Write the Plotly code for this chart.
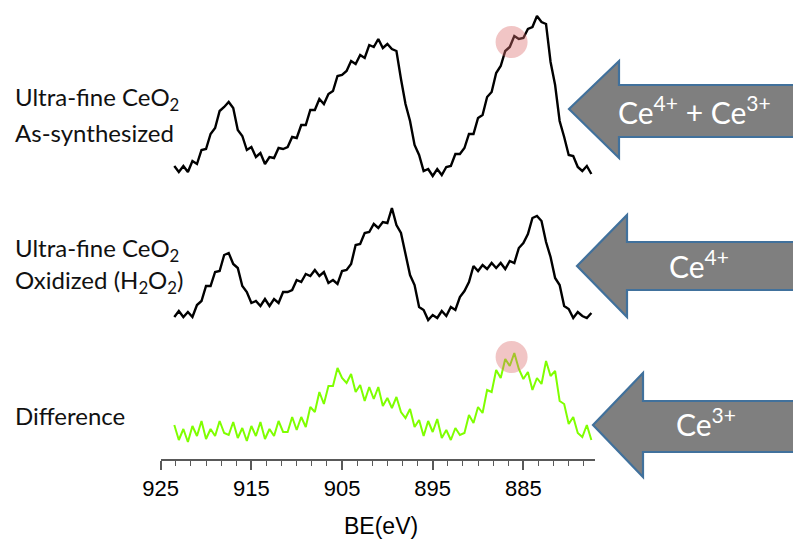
import plotly.graph_objects as go

W, H = 793, 542

# Binding energy grid (eV)
be = [923.5, 923.0, 922.5, 922.0, 921.5, 921.0, 920.5, 920.0, 919.5, 919.0,
      918.5, 918.0, 917.5, 917.0, 916.5, 916.0, 915.5, 915.0, 914.5, 914.0,
      913.5, 913.0, 912.5, 912.0, 911.5, 911.0, 910.5, 910.0, 909.5, 909.0,
      908.5, 908.0, 907.5, 907.0, 906.5, 906.0, 905.5, 905.0, 904.5, 904.0,
      903.5, 903.0, 902.5, 902.0, 901.5, 901.0, 900.5, 900.0, 899.5, 899.0,
      898.5, 898.0, 897.5, 897.0, 896.5, 896.0, 895.5, 895.0, 894.5, 894.0,
      893.5, 893.0, 892.5, 892.0, 891.5, 891.0, 890.5, 890.0, 889.5, 889.0,
      888.5, 888.0, 887.5, 887.0, 886.5, 886.0, 885.5, 885.0, 884.5, 884.0,
      883.5, 883.0, 882.5, 882.0, 881.5, 881.0, 880.5, 880.0, 879.5, 879.0,
      878.5, 878.0, 877.5]

# Ultra-fine CeO2, as-synthesized (arb. units)
as_synth = [24, 18, 24, 18, 29, 26, 40, 41, 56, 62,
            79, 83, 88, 82, 60, 54, 40, 43, 33, 37,
            26, 33, 32, 42, 41, 43, 53, 52, 65, 65,
            80, 80, 91, 86, 96, 99, 114, 115, 119, 129,
            126, 135, 132, 145, 143, 151, 142, 146, 141, 139,
            111, 86, 69, 45, 35, 19, 21, 14, 21, 15,
            23, 24, 36, 36, 42, 56, 56, 72, 75, 93,
            98, 117, 124, 139, 143, 154, 151, 152, 161, 163,
            174, 168, 166, 128, 105, 69, 53, 35, 34, 23,
            19, 24, 16]

# Ultra-fine CeO2, oxidized (H2O2)
oxidized = [13, 19, 13, 18, 13, 25, 29, 44, 44, 58,
            59, 75, 77, 66, 62, 44, 38, 27, 29, 24,
            31, 24, 31, 27, 38, 38, 40, 50, 48, 56,
            54, 60, 54, 58, 47, 50, 46, 59, 60, 66,
            85, 86, 97, 98, 106, 102, 108, 107, 122, 105,
            97, 76, 55, 45, 23, 20, 10, 15, 12, 19,
            14, 23, 20, 33, 39, 48, 64, 59, 65, 61,
            67, 62, 67, 61, 69, 67, 82, 87, 96, 112,
            114, 109, 88, 73, 52, 45, 24, 21, 12, 18,
            14, 12, 17]

# Difference spectrum
difference = [34, 19, 30, 17, 33, 23, 38, 20, 30, 23,
              38, 26, 24, 37, 21, 31, 18, 33, 23, 37,
              20, 30, 23, 38, 27, 27, 42, 29, 42, 32,
              52, 47, 67, 55, 73, 73, 91, 81, 76, 85,
              67, 74, 58, 72, 60, 72, 53, 61, 51, 62,
              47, 41, 50, 32, 39, 23, 38, 27, 40, 21,
              29, 19, 31, 24, 26, 44, 36, 52, 46, 69,
              67, 89, 81, 100, 93, 106, 90, 80, 87, 69,
              81, 75, 98, 83, 88, 58, 55, 35, 42, 26,
              22, 34, 19]

x_ticks = [925, 915, 905, 895, 885]
x_range = [925, 877.1]

left_labels = [("Ultra-fine CeO<sub>2</sub>", 98), ("As-synthesized", 132),
               ("Ultra-fine CeO<sub>2</sub>", 250), ("Oxidized (H<sub>2</sub>O<sub>2</sub>)", 282),
               ("Difference", 415)]

arrow_labels = ["Ce<sup>4+</sup> + Ce<sup>3+</sup>", "Ce<sup>4+</sup>", "Ce<sup>3+</sup>"]
# (tip_x, tip_y, head_x, head_top, head_bottom, shaft_top, shaft_bottom, text_x, text_y) in px
arrow_geom = [(569, 109, 619, 61, 158, 85, 137, 694, 110),
              (577, 266, 627, 215, 317, 242, 290, 699, 264),
              (593, 425, 643, 373, 477, 401, 452, 706, 422)]

highlight_be = 886.3
highlight_top = 148
highlight_diff = 102


def px(x):
    return x / W


def py(y):
    return 1 - y / H


fig = go.Figure()
fig.add_trace(go.Scatter(x=be, y=difference, mode="lines", xaxis="x", yaxis="y",
                         line=dict(color="#7FFF00", width=2), showlegend=False))
fig.add_trace(go.Scatter(x=be, y=oxidized, mode="lines", xaxis="x", yaxis="y2",
                         line=dict(color="#000000", width=2.4), showlegend=False))
fig.add_trace(go.Scatter(x=be, y=as_synth, mode="lines", xaxis="x", yaxis="y3",
                         line=dict(color="#000000", width=2.4), showlegend=False))

shapes = []
r_x = 16 / ((595 - 160.7) / (x_range[0] - x_range[1]))
shapes.append(dict(type="circle", xref="x", yref="y3", layer="above",
                   x0=highlight_be - r_x, x1=highlight_be + r_x,
                   y0=highlight_top - 16, y1=highlight_top + 16,
                   fillcolor="rgba(220,110,110,0.40)", line=dict(width=0)))
shapes.append(dict(type="circle", xref="x", yref="y", layer="above",
                   x0=highlight_be - r_x, x1=highlight_be + r_x,
                   y0=highlight_diff - 16, y1=highlight_diff + 16,
                   fillcolor="rgba(220,110,110,0.40)", line=dict(width=0)))

annotations = []
for (tx, ty, hx, ht, hb, st, sb, lx, ly), lab in zip(arrow_geom, arrow_labels):
    path = (f"M {px(tx)} {py(ty)} L {px(hx)} {py(ht)} L {px(hx)} {py(st)} "
            f"L {px(805)} {py(st)} L {px(805)} {py(sb)} L {px(hx)} {py(sb)} "
            f"L {px(hx)} {py(hb)} Z")
    shapes.append(dict(type="path", xref="paper", yref="paper", path=path,
                       fillcolor="#7F7F7F", line=dict(color="#41719C", width=2.2)))
    annotations.append(dict(x=px(lx), y=py(ly), xref="paper", yref="paper",
                            text=lab, showarrow=False, xanchor="center", yanchor="middle",
                            font=dict(family="Lato, Open Sans, sans-serif", size=30, color="white")))

for txt, y in left_labels:
    annotations.append(dict(x=px(13), y=py(y), xref="paper", yref="paper", text=txt,
                            showarrow=False, xanchor="left", yanchor="middle",
                            font=dict(family="Lato, Open Sans, sans-serif", size=24, color="#111111")))

annotations.append(dict(x=px(381), y=py(526), xref="paper", yref="paper", text="BE(eV)",
                        showarrow=False, xanchor="center", yanchor="middle",
                        font=dict(family="Liberation Sans Narrow, Arial Narrow, Liberation Sans, Arial",
                                  size=23, color="#000000")))

fig.update_layout(
    width=W, height=H,
    autosize=False,
    margin=dict(l=0, r=0, t=0, b=0, pad=0, autoexpand=False),
    paper_bgcolor="white", plot_bgcolor="white",
    shapes=shapes, annotations=annotations,
    xaxis=dict(domain=[160.7 / W, 595 / W], range=x_range, anchor="y", automargin=False,
               showgrid=False, zeroline=False, showline=True, linecolor="#595959", linewidth=1.5,
               ticks="outside", ticklen=9, tickwidth=1.5, tickcolor="#595959",
               tickvals=x_ticks, ticktext=[str(t) for t in x_ticks],
               minor=dict(ticks="outside", ticklen=5, tickwidth=1.2, tickcolor="#595959",
                          tick0=925, dtick=10 / 6),
               tickfont=dict(family="Liberation Sans Narrow, Arial Narrow, Liberation Sans, Arial",
                             size=22, color="#000000")),
    yaxis=dict(domain=[(H - 459) / H, (H - 340) / H], range=[0, 119], visible=False, automargin=False),
    yaxis2=dict(domain=[(H - 330) / H, (H - 195) / H], range=[0, 135], visible=False, automargin=False),
    yaxis3=dict(domain=[(H - 190) / H, (H - 5) / H], range=[0, 185], visible=False, automargin=False),
)

fig.write_html("out.html", config={"displayModeBar": False},
               post_script="document.body.style.margin='0';document.body.style.padding='0';")
